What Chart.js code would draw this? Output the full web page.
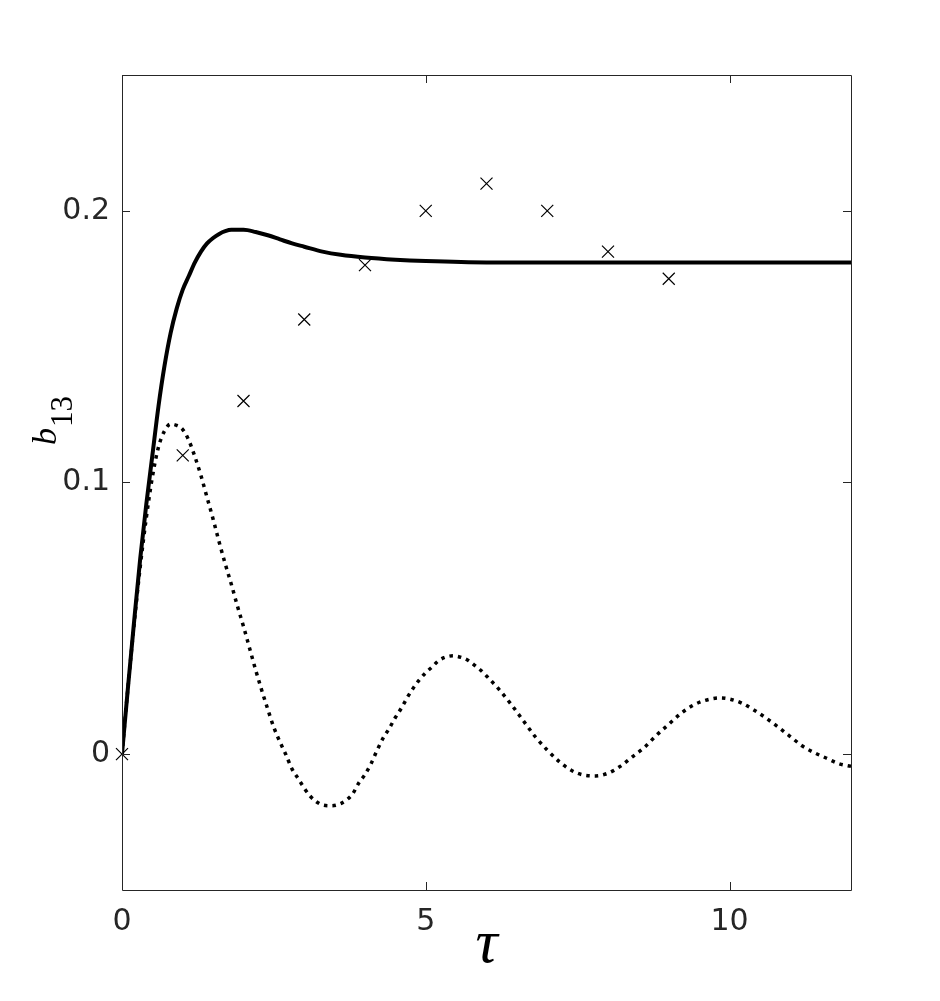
<!DOCTYPE html>
<html>
<head>
<meta charset="utf-8">
<script src="https://cdn.jsdelivr.net/npm/chart.js@4.4.1/dist/chart.umd.min.js"></script>
<style>
  html, body { margin: 0; padding: 0; background: #ffffff; }
  #wrap { width: 940px; height: 1001px; }
</style>
</head>
<body>
<div id="wrap"><canvas id="c" width="940" height="1001"></canvas></div>
<script>
// ---- data ----
const xTickValues = [0, 5, 10];
const xTickLabels = ['0', '5', '10'];
const yTickValues = [0, 0.1, 0.2];
const yTickLabels = ['0', '0.1', '0.2'];
const xLabel = 'τ';
const yLabelMain = 'b';
const yLabelSub = '13';

// markers (crosses)
const markerTau = [0, 1, 2, 3, 4, 5, 6, 7, 8, 9];
const markerB13 = [0, 0.110, 0.130, 0.160, 0.180, 0.200, 0.210, 0.200, 0.185, 0.175];

// solid curve
const solidTau = [0, 0.1, 0.2, 0.3, 0.4, 0.5, 0.6, 0.7, 0.8, 0.9, 1.0, 1.1, 1.2, 1.3, 1.4, 1.5, 1.6, 1.7, 1.8, 1.9, 2.0, 2.2, 2.4, 2.6, 2.8, 3.0, 3.3, 3.6, 4.0, 4.5, 5.0, 6.0, 7.0, 8.0, 9.0, 10.0, 11.0, 12.0];
const solidB13 = [0, 0.025, 0.049, 0.072, 0.092, 0.110, 0.128, 0.143, 0.155, 0.164, 0.171, 0.176, 0.181, 0.185, 0.188, 0.190, 0.1915, 0.1925, 0.193, 0.193, 0.193, 0.1922, 0.191, 0.1895, 0.188, 0.1868, 0.185, 0.1838, 0.1828, 0.182, 0.1815, 0.181, 0.181, 0.181, 0.181, 0.181, 0.181, 0.181];

// dotted curve
const dottedTau = [0, 0.1, 0.2, 0.3, 0.4, 0.5, 0.6, 0.7, 0.8, 0.9, 1.0, 1.1, 1.2, 1.3, 1.4, 1.5, 1.6, 1.7, 1.8, 1.9, 2.0, 2.1, 2.2, 2.3, 2.4, 2.5, 2.6, 2.7, 2.8, 2.9, 3.0, 3.1, 3.2, 3.3, 3.45, 3.6, 3.7, 3.8, 3.9, 4.0, 4.1, 4.2, 4.3, 4.4, 4.5, 4.6, 4.7, 4.8, 4.9, 5.0, 5.1, 5.2, 5.3, 5.45, 5.6, 5.7, 5.8, 5.9, 6.0, 6.2, 6.4, 6.6, 6.8, 7.0, 7.2, 7.4, 7.6, 7.8, 8.0, 8.2, 8.4, 8.6, 8.8, 9.0, 9.2, 9.4, 9.6, 9.85, 10.0, 10.2, 10.4, 10.6, 10.8, 11.0, 11.2, 11.4, 11.6, 11.8, 12.0];
const dottedB13 = [0, 0.025, 0.048, 0.069, 0.087, 0.102, 0.113, 0.119, 0.1215, 0.121, 0.1195, 0.1155, 0.1095, 0.1025, 0.0945, 0.0865, 0.078, 0.070, 0.0625, 0.0545, 0.047, 0.039, 0.031, 0.0235, 0.0165, 0.0098, 0.0045, -0.0003, -0.0055, -0.009, -0.0125, -0.0155, -0.0175, -0.0187, -0.019, -0.0182, -0.0168, -0.0145, -0.0105, -0.0075, -0.0035, 0.0015, 0.006, 0.0095, 0.0135, 0.017, 0.021, 0.0245, 0.0275, 0.030, 0.032, 0.0342, 0.0355, 0.0362, 0.0355, 0.0345, 0.0328, 0.031, 0.0288, 0.024, 0.0185, 0.0125, 0.0065, 0.0015, -0.0028, -0.006, -0.0077, -0.008, -0.007, -0.0045, -0.001, 0.0025, 0.007, 0.011, 0.015, 0.018, 0.0198, 0.0207, 0.0203, 0.0188, 0.0163, 0.0133, 0.0100, 0.0065, 0.003, 0.0005, -0.0015, -0.0035, -0.0045];

const xMin = 0, xMax = 12;
const yMin = -0.05, yMax = 0.25;

// ---- helpers ----
const toXY = (xs, ys) => xs.map((x, i) => ({ x: x, y: ys[i] }));
const AXIS_COLOR = '#262626';

const frameAndLabels = {
  id: 'frameAndLabels',
  afterDraw(chart) {
    const ctx = chart.ctx;
    const a = chart.chartArea;
    const xs = chart.scales.x, ys = chart.scales.y;
    const tl = 8;
    ctx.save();
    ctx.strokeStyle = AXIS_COLOR;
    ctx.lineWidth = 1;
    ctx.beginPath();
    ctx.rect(Math.round(a.left) + 0.5, Math.round(a.top) + 0.5,
             Math.round(a.right - a.left), Math.round(a.bottom - a.top));
    ctx.stroke();
    ctx.beginPath();
    xTickValues.forEach(v => {
      const px = Math.round(xs.getPixelForValue(v)) + 0.5;
      ctx.moveTo(px, a.bottom); ctx.lineTo(px, a.bottom - tl);
      ctx.moveTo(px, a.top); ctx.lineTo(px, a.top + tl);
    });
    yTickValues.forEach(v => {
      const py = Math.round(ys.getPixelForValue(v)) + 0.5;
      ctx.moveTo(a.left, py); ctx.lineTo(a.left + tl, py);
      ctx.moveTo(a.right, py); ctx.lineTo(a.right - tl, py);
    });
    ctx.stroke();

    // x axis label
    ctx.fillStyle = '#000000';
    ctx.textAlign = 'center';
    ctx.textBaseline = 'alphabetic';
    ctx.font = 'italic 62px "Liberation Serif"';
    ctx.fillText(xLabel, (a.left + a.right) / 2, 962);

    // y axis label (rotated) with subscript
    ctx.translate(56, 445);
    ctx.rotate(-Math.PI / 2);
    ctx.textAlign = 'left';
    ctx.font = 'italic 34px "Liberation Serif"';
    ctx.fillText(yLabelMain, 0, 0);
    const w = ctx.measureText(yLabelMain).width;
    ctx.font = '31px "Liberation Serif"';
    ctx.fillText(yLabelSub, w + 1, 16);
    ctx.restore();
  }
};

new Chart(document.getElementById('c'), {
  type: 'scatter',
  data: {
    datasets: [
      {
        label: 'dotted',
        data: toXY(dottedTau, dottedB13),
        showLine: true,
        borderColor: '#000000',
        borderWidth: 3.5,
        borderDash: [3.5, 5],
        borderCapStyle: 'butt',
        pointRadius: 0,
        cubicInterpolationMode: 'monotone',
        fill: false
      },
      {
        label: 'solid',
        data: toXY(solidTau, solidB13),
        showLine: true,
        borderColor: '#000000',
        borderWidth: 4,
        pointRadius: 0,
        cubicInterpolationMode: 'monotone',
        fill: false
      },
      {
        label: 'markers',
        data: toXY(markerTau, markerB13),
        showLine: false,
        pointStyle: 'crossRot',
        pointRadius: 8.5,
        borderColor: '#000000',
        backgroundColor: '#000000',
        borderWidth: 1.2,
        clip: false
      }
    ]
  },
  options: {
    responsive: false,
    animation: false,
    devicePixelRatio: 1,
    layout: { padding: { left: 0, top: 75, right: 89, bottom: 0 } },
    plugins: { legend: { display: false }, tooltip: { enabled: false } },
    scales: {
      x: {
        type: 'linear',
        min: xMin, max: xMax,
        afterBuildTicks: s => { s.ticks = xTickValues.map(v => ({ value: v })); },
        afterFit: s => { s.height = 111; },
        grid: { display: false, drawTicks: false },
        border: { display: false },
        ticks: {
          padding: 14,
          color: AXIS_COLOR,
          font: { family: '"DejaVu Sans"', size: 30 },
          maxRotation: 0,
          callback: (v) => { const i = xTickValues.indexOf(v); return i >= 0 ? xTickLabels[i] : ''; }
        }
      },
      y: {
        type: 'linear',
        min: yMin, max: yMax,
        afterBuildTicks: s => { s.ticks = yTickValues.map(v => ({ value: v })); },
        afterFit: s => { s.width = 122; },
        grid: { display: false, drawTicks: false },
        border: { display: false },
        ticks: {
          padding: 12,
          color: AXIS_COLOR,
          font: { family: '"DejaVu Sans"', size: 30 },
          callback: (v) => { const i = yTickValues.indexOf(v); return i >= 0 ? yTickLabels[i] : ''; }
        }
      }
    }
  },
  plugins: [frameAndLabels]
});
</script>
</body>
</html>
